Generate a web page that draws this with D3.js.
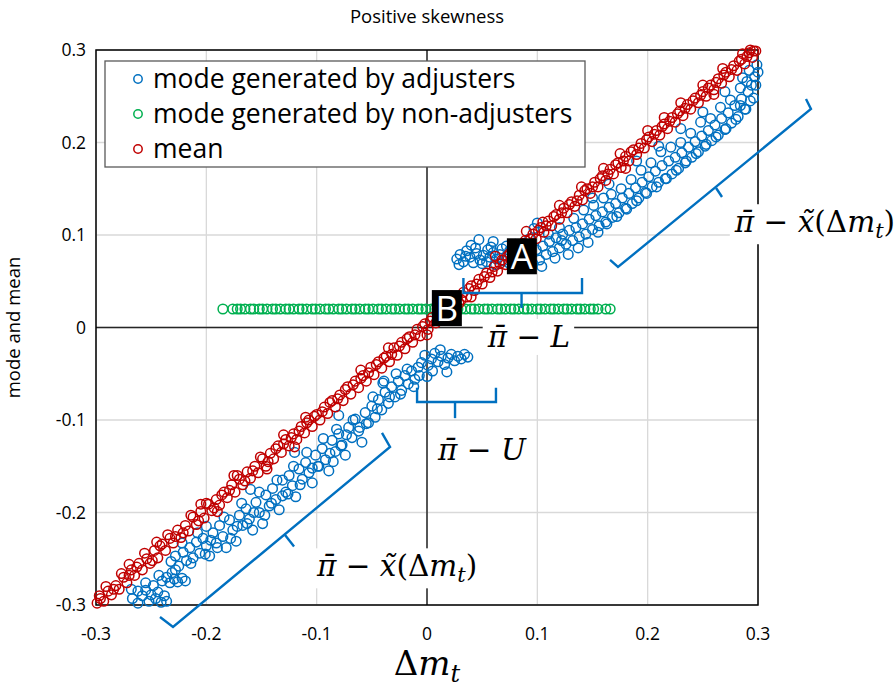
<!DOCTYPE html>
<html>
<head>
<meta charset="utf-8">
<script src="https://cdn.jsdelivr.net/npm/d3@7"></script>
<style>
  body { margin: 0; background: #fff; }
  text { font-family: "Open Sans", "Noto Sans", sans-serif; }
  .math { font-family: "DejaVu Serif", serif; }
</style>
</head>
<body>
<div id="chart"></div>
<script>
// values
const xTicks = [-0.3, -0.2, -0.1, 0, 0.1, 0.2, 0.3];
const xTickLabels = ["-0.3", "-0.2", "-0.1", "0", "0.1", "0.2", "0.3"];
const yTicks = [-0.3, -0.2, -0.1, 0, 0.1, 0.2, 0.3];
const yTickLabels = ["-0.3", "-0.2", "-0.1", "0", "0.1", "0.2", "0.3"];
const seriesNames = ["mode generated by adjusters", "mode generated by non-adjusters", "mean"];

// mode generated by adjusters [dm, mode]
const adjusters = [
  [-0.268,-0.283],[-0.267,-0.293],[-0.262,-0.298],[-0.258,-0.290],[-0.255,-0.284],[-0.252,-0.296],[-0.250,-0.289],
  [-0.248,-0.279],[-0.246,-0.293],[-0.244,-0.286],[-0.241,-0.297],[-0.238,-0.290],[-0.255,-0.276],[-0.262,-0.285],[-0.236,-0.296],
  [-0.243,-0.268],[-0.240,-0.274],[-0.236,-0.270],[-0.233,-0.276],[-0.229,-0.272],[-0.226,-0.275],[-0.222,-0.271],[-0.219,-0.274],[-0.231,-0.265],
  [-0.232,-0.253],[-0.228,-0.247],[-0.225,-0.258],[-0.221,-0.243],[-0.218,-0.252],[-0.215,-0.238],[-0.212,-0.249],[-0.209,-0.232],
  [-0.206,-0.244],[-0.203,-0.228],[-0.200,-0.236],[-0.197,-0.247],[-0.194,-0.222],[-0.191,-0.233],[-0.188,-0.214],[-0.185,-0.226],
  [-0.182,-0.238],[-0.179,-0.208],[-0.176,-0.219],[-0.173,-0.231],[-0.170,-0.203],[-0.167,-0.214],[-0.164,-0.196],[-0.161,-0.207],
  [-0.158,-0.219],[-0.155,-0.189],[-0.152,-0.200],[-0.149,-0.212],[-0.146,-0.181],[-0.143,-0.193],[-0.140,-0.174],[-0.137,-0.186],
  [-0.134,-0.197],[-0.131,-0.165],[-0.128,-0.178],[-0.125,-0.160],[-0.122,-0.171],[-0.119,-0.183],[-0.116,-0.153],[-0.113,-0.164],
  [-0.110,-0.146],[-0.107,-0.157],[-0.104,-0.168],[-0.101,-0.138],[-0.098,-0.150],[-0.095,-0.131],[-0.092,-0.143],[-0.089,-0.155],
  [-0.086,-0.122],[-0.083,-0.134],[-0.080,-0.115],[-0.077,-0.127],[-0.074,-0.138],[-0.071,-0.108],[-0.068,-0.119],[-0.065,-0.099],
  [-0.062,-0.112],[-0.059,-0.124],[-0.056,-0.092],[-0.053,-0.103],[-0.050,-0.085],[-0.047,-0.097],[-0.044,-0.078],[-0.041,-0.089],
  [-0.038,-0.070],[-0.035,-0.082],[-0.032,-0.064],[-0.029,-0.075],[-0.026,-0.058],[-0.023,-0.068],[-0.020,-0.052],[-0.017,-0.061],
  [-0.014,-0.047],[-0.011,-0.056],[-0.008,-0.043],[-0.085,-0.145],
  [-0.200,-0.215],[-0.160,-0.175],[-0.120,-0.135],[-0.080,-0.095],[-0.040,-0.060],
  [-0.228,-0.262],[-0.222,-0.233],[-0.214,-0.255],[-0.208,-0.222],[-0.201,-0.245],[-0.196,-0.230],[-0.190,-0.238],[-0.184,-0.205],
  [-0.178,-0.228],[-0.172,-0.215],[-0.168,-0.190],[-0.163,-0.212],[-0.157,-0.200],[-0.152,-0.178],[-0.147,-0.203],[-0.141,-0.190],
  [-0.136,-0.165],[-0.131,-0.182],[-0.126,-0.180],[-0.121,-0.150],[-0.115,-0.170],[-0.109,-0.135],[-0.104,-0.152],[-0.099,-0.150],
  [-0.094,-0.120],[-0.088,-0.136],[-0.082,-0.110],[-0.078,-0.128],[-0.073,-0.116],[-0.067,-0.100],[-0.061,-0.108],[-0.055,-0.104],
  [-0.049,-0.075],[-0.045,-0.088],[-0.039,-0.058],[-0.034,-0.075],[-0.028,-0.050],[-0.024,-0.072],[-0.018,-0.045],[-0.012,-0.064],
  [-0.007,-0.052],
  [-0.005,-0.038],[-0.002,-0.030],[0.001,-0.041],[0.004,-0.034],[0.007,-0.028],[0.010,-0.037],[0.013,-0.031],[0.016,-0.040],
  [0.019,-0.033],[0.022,-0.029],[0.025,-0.036],[0.028,-0.031],[0.031,-0.034],[0.034,-0.029],[0.037,-0.032],[0.005,-0.047],
  [0.000,-0.053],[0.012,-0.024],[0.018,-0.048],
  [0.027,0.074],[0.030,0.079],[0.033,0.071],[0.036,0.083],[0.039,0.076],[0.042,0.070],[0.045,0.080],[0.048,0.073],
  [0.051,0.078],[0.054,0.071],[0.057,0.076],[0.060,0.081],[0.063,0.074],[0.066,0.079],[0.069,0.072],[0.072,0.077],
  [0.075,0.083],[0.078,0.075],[0.081,0.080],[0.084,0.073],[0.087,0.078],[0.040,0.089],[0.060,0.093],[0.072,0.088],[0.090,0.072],
  [0.029,0.068],[0.035,0.077],[0.044,0.086],[0.050,0.069],[0.055,0.084],[0.062,0.068],[0.068,0.085],[0.074,0.070],
  [0.080,0.090],[0.086,0.069],[0.047,0.095],[0.058,0.087],[0.093,0.096],[0.097,0.107],
  [0.093,0.078],[0.096,0.069],[0.099,0.084],[0.102,0.073],[0.105,0.088],[0.100,0.113],[0.108,0.079],[0.111,0.093],
  [0.114,0.082],[0.117,0.097],[0.120,0.086],[0.123,0.101],[0.126,0.090],[0.129,0.105],[0.132,0.094],[0.135,0.108],
  [0.138,0.098],[0.141,0.112],[0.144,0.101],[0.147,0.117],[0.150,0.106],[0.153,0.121],[0.156,0.110],[0.159,0.125],
  [0.162,0.114],[0.165,0.130],[0.168,0.119],[0.171,0.134],[0.174,0.124],[0.177,0.140],[0.180,0.129],[0.183,0.145],
  [0.186,0.134],[0.189,0.151],[0.192,0.140],[0.195,0.157],[0.198,0.146],[0.201,0.163],[0.204,0.152],[0.207,0.169],
  [0.210,0.157],[0.213,0.175],[0.216,0.161],[0.219,0.180],[0.222,0.166],[0.225,0.184],[0.228,0.172],[0.231,0.189],
  [0.234,0.178],[0.237,0.195],[0.240,0.184],[0.243,0.201],[0.246,0.190],[0.249,0.207],[0.252,0.196],[0.255,0.213],
  [0.258,0.202],[0.261,0.219],[0.264,0.208],[0.267,0.226],[0.270,0.214],[0.273,0.232],[0.276,0.221],[0.279,0.240],
  [0.282,0.228],[0.285,0.247],[0.288,0.236],[0.291,0.255],[0.294,0.262],[0.297,0.271],[0.299,0.284],[0.296,0.248],
  [0.290,0.266],[0.284,0.259],
  [0.150,0.140],[0.190,0.180],[0.230,0.215],[0.270,0.255],[0.120,0.108],[0.165,0.155],[0.210,0.196],[0.250,0.233],
  [0.104,0.066],[0.110,0.101],[0.116,0.075],[0.122,0.094],[0.128,0.079],[0.133,0.118],[0.137,0.086],[0.142,0.127],
  [0.146,0.092],[0.151,0.132],[0.155,0.103],[0.160,0.140],[0.163,0.112],[0.167,0.144],[0.172,0.120],[0.176,0.150],
  [0.181,0.128],[0.185,0.160],[0.190,0.137],[0.194,0.170],[0.199,0.145],[0.203,0.178],[0.208,0.152],[0.212,0.190],
  [0.217,0.161],[0.221,0.195],[0.226,0.170],[0.230,0.200],[0.235,0.180],[0.239,0.210],[0.244,0.188],[0.248,0.222],
  [0.253,0.198],[0.257,0.226],[0.262,0.206],[0.266,0.238],[0.271,0.215],[0.275,0.246],[0.280,0.225],[0.284,0.240],
  [0.289,0.236],[0.293,0.245],[0.298,0.262],[0.300,0.276],[0.292,0.278],[0.286,0.270]
];

// mode generated by non-adjusters sits on one level
const nonAdjusterMode = 0.02;
const nonAdjusterDm = [
  -0.185,-0.176,-0.172,-0.169,-0.165,-0.160,-0.157,-0.152,-0.149,-0.145,-0.140,-0.137,-0.133,-0.128,-0.125,-0.121,
  -0.116,-0.113,-0.109,-0.104,-0.101,-0.097,-0.092,-0.089,-0.085,-0.080,-0.077,-0.073,-0.068,-0.065,-0.061,-0.056,
  -0.053,-0.049,-0.044,-0.041,-0.037,-0.032,-0.029,-0.025,-0.020,-0.017,-0.013,-0.008,-0.005,-0.001,0.004,0.007,
  0.011,0.016,0.019,0.023,0.028,0.031,0.035,0.040,0.043,0.047,0.052,0.055,0.059,0.064,0.067,0.071,0.076,0.079,
  0.083,0.088,0.091,0.095,0.100,0.103,0.107,0.112,0.115,0.119,0.124,0.127,0.131,0.136,0.139,0.143,0.148,0.151,
  0.155,0.162,0.166
];

// mean [dm, mean]
const mean = [
  [-0.299,-0.298],[-0.296,-0.293],[-0.293,-0.296],[-0.289,-0.285],[-0.286,-0.289],[-0.282,-0.279],[-0.279,-0.283],
  [-0.275,-0.270],[-0.272,-0.276],[-0.268,-0.262],[-0.265,-0.268],[-0.261,-0.255],[-0.258,-0.262],[-0.254,-0.250],
  [-0.251,-0.255],[-0.247,-0.241],[-0.244,-0.249],[-0.240,-0.234],[-0.237,-0.241],[-0.233,-0.228],[-0.230,-0.233],
  [-0.226,-0.219],[-0.223,-0.227],[-0.219,-0.214],[-0.216,-0.220],[-0.212,-0.205],[-0.209,-0.213],[-0.205,-0.199],
  [-0.202,-0.206],[-0.198,-0.191],[-0.195,-0.198],[-0.191,-0.186],[-0.188,-0.192],[-0.184,-0.178],[-0.181,-0.184],
  [-0.177,-0.170],[-0.174,-0.178],[-0.170,-0.164],[-0.167,-0.170],[-0.163,-0.156],[-0.160,-0.163],[-0.156,-0.150],
  [-0.153,-0.157],[-0.149,-0.142],[-0.146,-0.150],[-0.142,-0.136],[-0.139,-0.142],[-0.135,-0.128],[-0.132,-0.135],
  [-0.128,-0.121],[-0.125,-0.128],[-0.121,-0.115],[-0.118,-0.121],[-0.114,-0.107],[-0.111,-0.114],[-0.107,-0.100],
  [-0.104,-0.107],[-0.100,-0.094],[-0.097,-0.100],[-0.093,-0.086],[-0.090,-0.093],[-0.086,-0.079],[-0.083,-0.086],
  [-0.079,-0.073],[-0.076,-0.079],[-0.072,-0.064],[-0.069,-0.072],[-0.065,-0.058],[-0.062,-0.065],[-0.058,-0.052],
  [-0.055,-0.058],[-0.051,-0.043],[-0.048,-0.051],[-0.044,-0.037],[-0.041,-0.044],[-0.037,-0.031],[-0.034,-0.037],
  [-0.030,-0.022],[-0.027,-0.030],[-0.023,-0.016],[-0.020,-0.023],[-0.016,-0.010],[-0.013,-0.016],[-0.009,-0.002],
  [-0.006,-0.009],[-0.002,0.004],[0.001,-0.002],[0.005,0.011],[0.008,0.005],[0.012,0.017],[0.015,0.012],[0.019,0.024],
  [0.022,0.019],[0.026,0.031],[0.029,0.026],[0.033,0.038],[0.036,0.033],[0.040,0.045],[0.043,0.040],[0.047,0.052],
  [0.050,0.047],[0.054,0.059],[0.057,0.054],[0.061,0.066],[0.064,0.061],[0.068,0.073],[0.071,0.068],[0.075,0.080],
  [0.078,0.075],[0.082,0.087],[0.085,0.082],[0.089,0.094],[0.092,0.089],[0.096,0.101],[0.099,0.096],[0.103,0.108],
  [0.106,0.103],[0.110,0.115],[0.113,0.110],[0.117,0.122],[0.120,0.117],[0.124,0.129],[0.127,0.124],[0.131,0.136],
  [0.134,0.131],[0.138,0.143],[0.141,0.138],[0.145,0.150],[0.148,0.145],[0.152,0.157],[0.155,0.152],[0.159,0.164],
  [0.162,0.159],[0.166,0.171],[0.169,0.166],[0.173,0.178],[0.176,0.173],[0.180,0.185],[0.183,0.180],[0.187,0.192],
  [0.190,0.187],[0.194,0.199],[0.197,0.194],[0.201,0.206],[0.204,0.201],[0.208,0.213],[0.211,0.208],[0.215,0.220],
  [0.218,0.215],[0.222,0.227],[0.225,0.222],[0.229,0.234],[0.232,0.229],[0.236,0.241],[0.239,0.236],[0.243,0.248],
  [0.246,0.243],[0.250,0.255],[0.253,0.250],[0.257,0.262],[0.260,0.257],[0.264,0.269],[0.267,0.264],[0.271,0.276],
  [0.274,0.271],[0.278,0.283],[0.281,0.278],[0.285,0.290],[0.288,0.285],[0.292,0.297],[0.295,0.292],[0.298,0.299],
  [-0.245,-0.232],[-0.175,-0.160],[-0.110,-0.097],[-0.060,-0.046],[0.062,0.077],[0.120,0.132],[0.175,0.188],
  [0.230,0.243],[0.268,0.280],[-0.145,-0.153],[0.000,-0.008],
  [-0.297,-0.290],[-0.291,-0.280],[-0.284,-0.283],[-0.277,-0.266],[-0.270,-0.268],[-0.263,-0.259],[-0.256,-0.244],
  [-0.249,-0.252],[-0.242,-0.236],[-0.235,-0.224],[-0.228,-0.226],[-0.221,-0.222],[-0.214,-0.203],[-0.207,-0.209],
  [-0.200,-0.190],[-0.193,-0.195],[-0.186,-0.181],[-0.179,-0.176],[-0.172,-0.160],[-0.165,-0.166],[-0.158,-0.155],
  [-0.151,-0.140],[-0.144,-0.145],[-0.137,-0.131],[-0.130,-0.126],[-0.123,-0.119],[-0.116,-0.112],[-0.109,-0.103],
  [-0.102,-0.096],[-0.095,-0.091],[-0.088,-0.081],[-0.081,-0.077],[-0.074,-0.067],[-0.067,-0.062],[-0.060,-0.055],
  [-0.053,-0.049],[-0.046,-0.040],[-0.039,-0.033],[-0.032,-0.029],[-0.025,-0.020],[-0.018,-0.012],[-0.011,-0.008],
  [-0.004,0.001],[0.003,0.007],[0.010,0.008],[0.017,0.021],[0.024,0.027],[0.031,0.030],[0.038,0.042],[0.045,0.047],
  [0.052,0.055],[0.059,0.060],[0.066,0.069],[0.073,0.077],[0.080,0.082],[0.087,0.091],[0.094,0.096],[0.101,0.105],
  [0.108,0.110],[0.115,0.120],[0.122,0.124],[0.129,0.133],[0.136,0.137],[0.143,0.148],[0.150,0.152],[0.157,0.161],
  [0.164,0.166],[0.171,0.176],[0.178,0.180],[0.185,0.190],[0.192,0.194],[0.199,0.203],[0.206,0.209],[0.213,0.217],
  [0.220,0.223],[0.227,0.231],[0.234,0.237],[0.241,0.245],[0.248,0.251],[0.255,0.259],[0.262,0.265],[0.269,0.273],
  [0.276,0.279],[0.283,0.288],[0.290,0.293],[0.296,0.299],[0.286,0.296],[0.293,0.300],
  [-0.270,-0.256],[-0.205,-0.191],[-0.130,-0.116],[-0.035,-0.022],[0.022,0.034],[0.090,0.104],[0.140,0.152],
  [0.200,0.213],[0.250,0.262],[0.105,0.114],[0.160,0.172],[0.215,0.227],
  [-0.190,-0.199],[-0.120,-0.129],[0.040,0.033],[0.180,0.172],[0.260,0.252]
];

// annotation braces, in data units
const braces = [
  { path: [[0.1659,0.073],[0.1731,0.0654],[0.348,0.2362],[0.3435,0.247]], tick: [[0.262,0.1508],[0.2674,0.1411]] },
  { path: [[-0.0408,-0.114],[-0.0335,-0.1292],[-0.2302,-0.3238],[-0.242,-0.313]], tick: [[-0.1287,-0.2243],[-0.1205,-0.2368]] },
  { path: [[0.033,0.0535],[0.033,0.0373],[0.1405,0.0373],[0.1405,0.0535]], tick: [[0.0857,0.0373],[0.0857,0.021]] },
  { path: [[-0.009,-0.065],[-0.009,-0.0805],[0.0625,-0.0805],[0.0625,-0.065]], tick: [[0.0254,-0.0805],[0.0254,-0.098]] }
];
// formula labels: left end / baseline, kind of formula
const formulas = [
  { x: 0.279, y: 0.103, kind: "x" },
  { x: -0.0997, y: -0.269, kind: "x" },
  { x: 0.055, y: -0.021, kind: "L" },
  { x: 0.010, y: -0.143, kind: "U" }
];
const pointLabels = [
  { name: "A", x: 0.086, y: 0.077 },
  { name: "B", x: 0.018, y: 0.021 }
];

const colors = ["#0070C0", "#00B050", "#C00000"];

var width = 894, height = 689;
var margin = {top: 50, right: 136, bottom: 84, left: 96};

var svg = d3.select("#chart").append("svg")
  .attr("width", width)
  .attr("height", height);

var x = d3.scaleLinear().domain([-0.3, 0.3]).range([margin.left, width - margin.right]);
var y = d3.scaleLinear().domain([-0.3, 0.3]).range([height - margin.bottom, margin.top]);

// gridlines
svg.append("g").selectAll("line")
  .data(xTicks).enter().append("line")
  .attr("x1", d => x(d)).attr("x2", d => x(d))
  .attr("y1", y(0.3)).attr("y2", y(-0.3))
  .attr("stroke", "#d9d9d9").attr("stroke-width", 1.3);
svg.append("g").selectAll("line")
  .data(yTicks).enter().append("line")
  .attr("y1", d => y(d)).attr("y2", d => y(d))
  .attr("x1", x(-0.3)).attr("x2", x(0.3))
  .attr("stroke", "#d9d9d9").attr("stroke-width", 1.3);

// zero axes
svg.append("line").attr("x1", x(0)).attr("x2", x(0)).attr("y1", y(0.3)).attr("y2", y(-0.3))
  .attr("stroke", "#262626").attr("stroke-width", 1.5);
svg.append("line").attr("x1", x(-0.3)).attr("x2", x(0.3)).attr("y1", y(0)).attr("y2", y(0))
  .attr("stroke", "#262626").attr("stroke-width", 1.5);

// plot border
svg.append("rect")
  .attr("x", x(-0.3)).attr("y", y(0.3))
  .attr("width", x(0.3) - x(-0.3)).attr("height", y(-0.3) - y(0.3))
  .attr("fill", "none").attr("stroke", "#000").attr("stroke-width", 1.5);

// tick labels
svg.append("g").selectAll("text")
  .data(xTicks).enter().append("text")
  .attr("x", d => x(d)).attr("y", y(-0.3) + 35)
  .attr("text-anchor", "middle")
  .attr("font-size", 17.5)
  .text((d, i) => xTickLabels[i]);
svg.append("g").selectAll("text")
  .data(yTicks).enter().append("text")
  .attr("x", x(-0.3) - 10).attr("y", d => y(d) + 6)
  .attr("text-anchor", "end")
  .attr("font-size", 17.5)
  .text((d, i) => yTickLabels[i]);

// title and axis titles
svg.append("text").attr("x", x(0)).attr("y", 23)
  .attr("text-anchor", "middle").attr("font-size", 18.5)
  .text("Positive skewness");
svg.append("text")
  .attr("transform", `translate(20,${y(0)}) rotate(-90)`)
  .attr("text-anchor", "middle").attr("font-size", 18.5)
  .text("mode and mean");
var xl = svg.append("text").attr("class", "math")
  .attr("x", x(0)).attr("y", 675)
  .attr("text-anchor", "middle").attr("font-size", 34);
xl.append("tspan").text("Δ");
xl.append("tspan").attr("font-style", "italic").text("m");
xl.append("tspan").attr("font-style", "italic").attr("font-size", 24).attr("dy", 7).text("t");

// points: adjusters, non-adjusters, mean (same order as the legend)
function drawPoints(data, color) {
  svg.append("g").selectAll("circle")
    .data(data).enter().append("circle")
    .attr("cx", d => x(d[0])).attr("cy", d => y(d[1]))
    .attr("r", 4.8)
    .attr("fill", "none")
    .attr("stroke", color)
    .attr("stroke-width", 1.5);
}
drawPoints(adjusters, colors[0]);
drawPoints(nonAdjusterDm.map(d => [d, nonAdjusterMode]), colors[1]);
drawPoints(mean, colors[2]);

// braces
var line = d3.line().x(d => x(d[0])).y(d => y(d[1]));
braces.forEach(function(b) {
  svg.append("path").attr("d", line(b.path))
    .attr("fill", "none").attr("stroke", colors[0]).attr("stroke-width", 2.4);
  svg.append("path").attr("d", line(b.tick))
    .attr("fill", "none").attr("stroke", colors[0]).attr("stroke-width", 2.4);
});

// formula labels with white background
formulas.forEach(function(f) {
  var g = svg.append("g");
  var t = g.append("text").attr("class", "math")
    .attr("x", x(f.x)).attr("y", y(f.y))
    .attr("font-size", 29.5);
  t.append("tspan").attr("font-style", "italic").text("π\u0304");
  t.append("tspan").text(" \u2212 ");
  if (f.kind === "x") {
    t.append("tspan").attr("font-style", "italic").text("x\u0303");
    t.append("tspan").text("(Δ");
    t.append("tspan").attr("font-style", "italic").text("m");
    t.append("tspan").attr("font-style", "italic").attr("font-size", 21).attr("dy", 6).text("t");
    t.append("tspan").attr("dy", -6).text(")");
  } else {
    t.append("tspan").attr("font-style", "italic").text(f.kind);
  }
  var bb = t.node().getBBox();
  g.insert("rect", "text")
    .attr("x", bb.x - 4).attr("y", bb.y - 1)
    .attr("width", bb.width + 8).attr("height", bb.height + 2)
    .attr("fill", "#fff");
});

// A / B markers
pointLabels.forEach(function(p) {
  svg.append("rect")
    .attr("x", x(p.x) - 15).attr("y", y(p.y) - 18)
    .attr("width", 30).attr("height", 36)
    .attr("fill", "#000");
  svg.append("text")
    .attr("x", x(p.x)).attr("y", y(p.y) + 13)
    .attr("text-anchor", "middle")
    .attr("font-size", 35)
    .attr("fill", "#fff")
    .text(p.name);
});

// legend
var legend = svg.append("g");
legend.append("rect")
  .attr("x", 105).attr("y", 61)
  .attr("width", 480).attr("height", 106)
  .attr("fill", "#fff").attr("stroke", "#595959").attr("stroke-width", 1.3);
seriesNames.forEach(function(name, i) {
  legend.append("circle")
    .attr("cx", 138).attr("cy", 79 + i * 35)
    .attr("r", 4.2).attr("fill", "none")
    .attr("stroke", colors[i]).attr("stroke-width", 1.5);
  legend.append("text")
    .attr("x", 153).attr("y", 79 + i * 35 + 9)
    .attr("font-size", 26.5)
    .text(name);
});
</script>
</body>
</html>
